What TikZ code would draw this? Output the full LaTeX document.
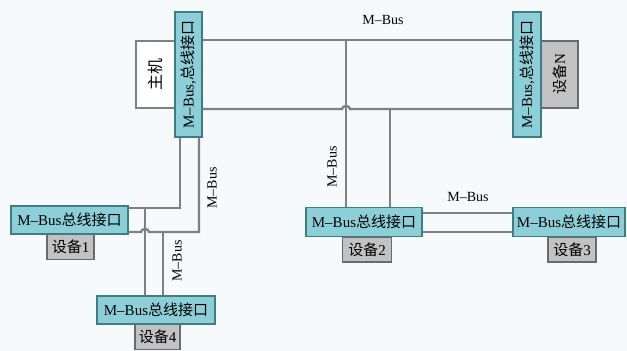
\documentclass[tikz,border=0pt]{standalone}
\usepackage{fontspec}
\usepackage{graphicx}
\setmainfont{Liberation Serif}
\newfontfamily\cjk{Noto Sans CJK SC}
\usetikzlibrary{positioning}

\definecolor{bgcol}{HTML}{F6FAFD}
\definecolor{ifcol}{HTML}{8DCFD8}
\definecolor{ifline}{HTML}{3E7D84}
\definecolor{devcol}{HTML}{C2C2C2}
\definecolor{devline}{HTML}{6A6A6A}
\definecolor{wirecol}{HTML}{808080}

\newcommand{\ifname}{M--Bus{\cjk 总线接口}}
\newcommand{\ifnamev}{M--Bus,{\cjk 总线接口}}

\begin{document}
\begin{tikzpicture} [
        x=1pt, y=-1pt,
        iface/.style={draw=ifline, fill=ifcol, line width=1.3pt, inner sep=0pt,
            minimum width=116pt, minimum height=28pt, font=\fontsize{15}{17}\selectfont},
        ifacev/.style={iface, minimum width=27pt, minimum height=125pt},
        device/.style={draw=devline, fill=devcol, line width=1.3pt, inner sep=0pt,
            minimum width=47pt, minimum height=25pt, font=\fontsize{15}{17}\selectfont},
        hostbox/.style={draw=wirecol, fill=white, line width=2pt, inner sep=0pt,
            minimum width=39pt, minimum height=67pt, font=\fontsize{16}{18}\selectfont},
        wire/.style={draw=wirecol, line width=2.3pt},
        buslabel/.style={inner sep=0pt, font=\fontsize{14}{16}\selectfont},
        hop/.style={x radius=4pt, y radius=3pt}
    ]
    \fill[bgcol] (0,0) rectangle (627,351);
    \useasboundingbox (0,0) rectangle (627,351);

    % devices (drawn first, interfaces lie on top)
    \node[hostbox]                                         (host)  at (155.5,74.5) {\rotatebox{90}{\cjk 主机}};
    \node[device, minimum width=37pt, minimum height=67pt] (devN)  at (559.5,74.5) {\rotatebox{90}{{\cjk 设备}N}};
    \node[device]                                          (dev1)  at (70.5,247)   {{\cjk 设备}1};
    \node[device, minimum width=49pt]                      (dev2)  at (367,249.5)  {{\cjk 设备}2};
    \node[device, minimum width=48pt]                      (dev3)  at (572,249.5)  {{\cjk 设备}3};
    \node[device, minimum width=45pt]                      (dev4)  at (157.5,337)  {{\cjk 设备}4};

    % bus interfaces
    \node[ifacev]                                          (hostif) at (188.5,74.5) {\rotatebox{90}{\ifnamev}};
    \node[ifacev, minimum width=28pt]                      (devNif) at (527,74.5)   {\rotatebox{90}{\ifnamev}};
    \node[iface, minimum width=117pt]                      (dev1if) at (69.5,220)   {\ifname};
    \node[iface, minimum height=29pt]                      (dev2if) at (364,222)    {\ifname};
    \node[iface, minimum width=112pt, minimum height=29pt] (dev3if) at (569,222)    {\ifname};
    \node[iface, minimum width=118pt]                      (dev4if) at (156,310)    {\ifname};

    % taps on the bus
    \coordinate (tapA)  at (346,41);
    \coordinate (tapB)  at (390,108);
    \coordinate (drop1) at (180,208);
    \coordinate (drop2) at (199,232);
    \coordinate (tap4a) at (145,208);
    \coordinate (tap4b) at (163,232);

    % host -- device N
    \draw[wire] (hostif.east |- host.north) -- (devNif.west |- host.north);
    \draw[wire] (hostif.east |- host.south) -- ([xshift=-4pt]tapA |- host.south)
        arc[hop, start angle=180, end angle=0] -- (devNif.west |- host.south);

    % bus -- device 2 -- device 3
    \draw[wire] (tapA) -- (tapA |- dev2if.north);
    \draw[wire] (tapB) -- (tapB |- dev2if.north);
    \draw[wire] ([yshift=9pt]dev2if.east)   -- ([yshift=9pt]dev3if.west);
    \draw[wire] ([yshift=-10pt]dev2if.east) -- ([yshift=-10pt]dev3if.west);

    % host -- device 1 -- device 4
    \draw[wire] (drop1 |- hostif.south) -- (drop1) -- (drop1 -| dev1if.east);
    \draw[wire] (drop2 |- hostif.south) -- (drop2) -- ([xshift=4pt]tap4a |- drop2)
        arc[hop, start angle=0, end angle=180] -- (drop2 -| dev1if.east);
    \draw[wire] (tap4a) -- (tap4a |- dev4if.north);
    \draw[wire] (tap4b) -- (tap4b |- dev4if.north);

    % labels
    \node[buslabel]            (lbtop) at (383,20)  {M--Bus};
    \node[buslabel, rotate=90] (lbA)   at (332,167) {M--Bus};
    \node[buslabel, rotate=90] (lbH)   at (212,188) {M--Bus};
    \node[buslabel, rotate=90] (lb4)   at (177,261) {M--Bus};
    \node[buslabel]            (lb23)  at (468,197) {M--Bus};
\end{tikzpicture}
\end{document}
